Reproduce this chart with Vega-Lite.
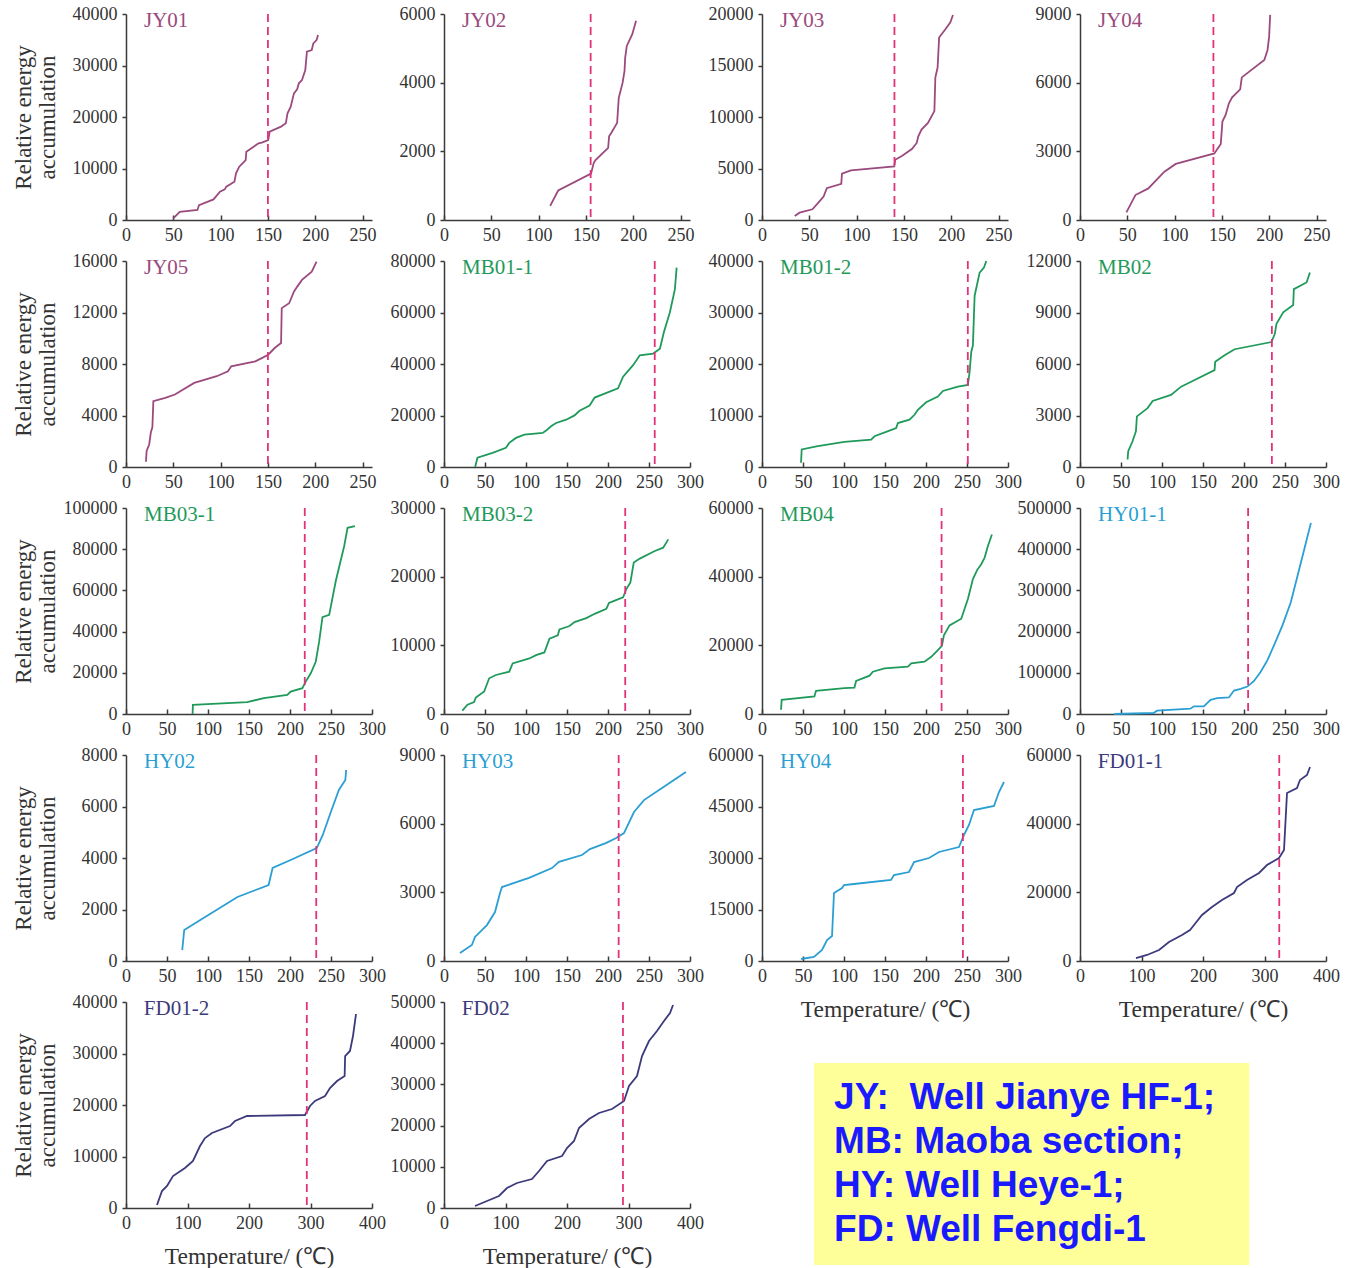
{
"$schema":"https://vega.github.io/schema/vega-lite/v6.json",
"background":"white",
"padding":{"left":11,"top":5,"right":5,"bottom":5},
"columns":4,
"spacing":{"row":41,"column":72},
"bounds":"flush",
"align":"all",
"datasets":{
"d":[
{"w":"JY01","t":150},{"w":"JY02","t":155},{"w":"JY03","t":140},{"w":"JY04","t":141},{"w":"JY05","t":150},
{"w":"MB01-1","t":257},{"w":"MB01-2","t":251},{"w":"MB02","t":234},{"w":"MB03-1","t":218},{"w":"MB03-2","t":221},{"w":"MB04","t":219},
{"w":"HY01-1","t":205},{"w":"HY02","t":232},{"w":"HY03","t":213},{"w":"HY04","t":245},
{"w":"FD01-1","t":324},{"w":"FD01-2","t":294},{"w":"FD02","t":291}
],
"leg":[
{"i":0,"label":"JY:\u00a0 Well Jianye HF-1;"},
{"i":1,"label":"MB: Maoba section;"},
{"i":2,"label":"HY: Well Heye-1;"},
{"i":3,"label":"FD: Well Fengdi-1"}
],
"c":[
{"w":"JY01","t":50,"e":300},{"w":"JY01","t":56.8,"e":1600},{"w":"JY01","t":75.5,"e":1950},{"w":"JY01","t":77.2,"e":2900},{"w":"JY01","t":92.5,"e":4000},{"w":"JY01","t":99.3,"e":5500},{"w":"JY01","t":104.4,"e":5950},{"w":"JY01","t":106,"e":6470},{"w":"JY01","t":114.6,"e":7440},{"w":"JY01","t":116.3,"e":9060},{"w":"JY01","t":119.7,"e":10350},{"w":"JY01","t":126.5,"e":11650},{"w":"JY01","t":127.2,"e":13270},{"w":"JY01","t":140.1,"e":14890},{"w":"JY01","t":143.5,"e":15020},{"w":"JY01","t":150.3,"e":15530},{"w":"JY01","t":151.9,"e":17150},{"w":"JY01","t":163.8,"e":18120},{"w":"JY01","t":168.9,"e":18770},{"w":"JY01","t":170.7,"e":20710},{"w":"JY01","t":174.1,"e":22000},{"w":"JY01","t":177.5,"e":24600},{"w":"JY01","t":180.9,"e":25370},{"w":"JY01","t":182.7,"e":26540},{"w":"JY01","t":186,"e":27180},{"w":"JY01","t":189.5,"e":29130},{"w":"JY01","t":191.2,"e":32690},{"w":"JY01","t":196.3,"e":33010},{"w":"JY01","t":198,"e":34300},{"w":"JY01","t":201.4,"e":34950},{"w":"JY01","t":203,"e":35920},
{"w":"JY02","t":112.2,"e":410},{"w":"JY02","t":120.7,"e":860},{"w":"JY02","t":155.4,"e":1350},{"w":"JY02","t":158.2,"e":1660},{"w":"JY02","t":159.9,"e":1740},{"w":"JY02","t":173.5,"e":2100},{"w":"JY02","t":174.5,"e":2440},{"w":"JY02","t":176.9,"e":2540},{"w":"JY02","t":183,"e":2830},{"w":"JY02","t":184.7,"e":3560},{"w":"JY02","t":188.8,"e":4000},{"w":"JY02","t":190.8,"e":4340},{"w":"JY02","t":191.5,"e":4730},{"w":"JY02","t":193.2,"e":5070},{"w":"JY02","t":199,"e":5410},{"w":"JY02","t":203,"e":5800},
{"w":"JY03","t":34.6,"e":390},{"w":"JY03","t":39.7,"e":715},{"w":"JY03","t":53.3,"e":1040},{"w":"JY03","t":58.4,"e":1560},{"w":"JY03","t":65.1,"e":2280},{"w":"JY03","t":68.5,"e":3090},{"w":"JY03","t":83.8,"e":3510},{"w":"JY03","t":84.5,"e":4490},{"w":"JY03","t":94,"e":4810},{"w":"JY03","t":139.8,"e":5200},{"w":"JY03","t":140.8,"e":5850},{"w":"JY03","t":148.2,"e":6240},{"w":"JY03","t":158.4,"e":6890},{"w":"JY03","t":163.5,"e":7480},{"w":"JY03","t":165.2,"e":8130},{"w":"JY03","t":168.6,"e":8780},{"w":"JY03","t":175.4,"e":9430},{"w":"JY03","t":182.2,"e":10570},{"w":"JY03","t":183.2,"e":13820},{"w":"JY03","t":185.6,"e":14800},{"w":"JY03","t":187.2,"e":17720},{"w":"JY03","t":194,"e":18540},{"w":"JY03","t":199.1,"e":19190},{"w":"JY03","t":201.8,"e":19900},
{"w":"JY04","t":49,"e":335},{"w":"JY04","t":58.6,"e":1090},{"w":"JY04","t":72.2,"e":1380},{"w":"JY04","t":89.2,"e":2110},{"w":"JY04","t":101.2,"e":2450},{"w":"JY04","t":142,"e":2910},{"w":"JY04","t":148.8,"e":3320},{"w":"JY04","t":150.5,"e":4300},{"w":"JY04","t":153.9,"e":4590},{"w":"JY04","t":157.4,"e":5100},{"w":"JY04","t":160.8,"e":5360},{"w":"JY04","t":169.3,"e":5710},{"w":"JY04","t":171,"e":6230},{"w":"JY04","t":194.8,"e":6990},{"w":"JY04","t":198.2,"e":7430},{"w":"JY04","t":199.9,"e":8010},{"w":"JY04","t":201,"e":8960},
{"w":"JY05","t":21.1,"e":410},{"w":"JY05","t":21.8,"e":1240},{"w":"JY05","t":24.5,"e":1750},{"w":"JY05","t":26.2,"e":2660},{"w":"JY05","t":27.9,"e":3100},{"w":"JY05","t":28.9,"e":5110},{"w":"JY05","t":41.5,"e":5370},{"w":"JY05","t":51.7,"e":5630},{"w":"JY05","t":72.1,"e":6530},{"w":"JY05","t":95.9,"e":7050},{"w":"JY05","t":107.8,"e":7430},{"w":"JY05","t":111.2,"e":7820},{"w":"JY05","t":136.7,"e":8210},{"w":"JY05","t":143.5,"e":8460},{"w":"JY05","t":150.3,"e":8720},{"w":"JY05","t":157.1,"e":9240},{"w":"JY05","t":163.9,"e":9630},{"w":"JY05","t":164.6,"e":12340},{"w":"JY05","t":172.4,"e":12720},{"w":"JY05","t":177.6,"e":13630},{"w":"JY05","t":181,"e":14010},{"w":"JY05","t":186,"e":14530},{"w":"JY05","t":196.3,"e":15170},{"w":"JY05","t":201.4,"e":15950},
{"w":"MB01-1","t":38,"e":0},{"w":"MB01-1","t":40.8,"e":3600},{"w":"MB01-1","t":59.2,"e":5520},{"w":"MB01-1","t":75.5,"e":7450},{"w":"MB01-1","t":79.6,"e":9370},{"w":"MB01-1","t":87.8,"e":11300},{"w":"MB01-1","t":98,"e":12580},{"w":"MB01-1","t":120.4,"e":13230},{"w":"MB01-1","t":124.5,"e":14130},{"w":"MB01-1","t":130.6,"e":15800},{"w":"MB01-1","t":136.7,"e":17080},{"w":"MB01-1","t":149,"e":18360},{"w":"MB01-1","t":159.2,"e":20030},{"w":"MB01-1","t":165.3,"e":21830},{"w":"MB01-1","t":177.6,"e":23890},{"w":"MB01-1","t":183.7,"e":26960},{"w":"MB01-1","t":202,"e":29270},{"w":"MB01-1","t":212.2,"e":30560},{"w":"MB01-1","t":218.4,"e":35050},{"w":"MB01-1","t":230.6,"e":39540},{"w":"MB01-1","t":238.8,"e":43400},{"w":"MB01-1","t":255.1,"e":44040},{"w":"MB01-1","t":263.3,"e":45970},{"w":"MB01-1","t":268.2,"e":52390},{"w":"MB01-1","t":275.5,"e":60090},{"w":"MB01-1","t":281.6,"e":69080},{"w":"MB01-1","t":283.7,"e":77430},
{"w":"MB01-2","t":47.6,"e":830},{"w":"MB01-2","t":48.4,"e":3400},{"w":"MB01-2","t":68,"e":4040},{"w":"MB01-2","t":100.5,"e":4880},{"w":"MB01-2","t":133.1,"e":5330},{"w":"MB01-2","t":137.2,"e":5970},{"w":"MB01-2","t":151.4,"e":6810},{"w":"MB01-2","t":163.6,"e":7580},{"w":"MB01-2","t":165.7,"e":8540},{"w":"MB01-2","t":179.9,"e":9180},{"w":"MB01-2","t":186,"e":10140},{"w":"MB01-2","t":190.1,"e":11110},{"w":"MB01-2","t":200.2,"e":12580},{"w":"MB01-2","t":214.5,"e":13680},{"w":"MB01-2","t":220.6,"e":14770},{"w":"MB01-2","t":238.9,"e":15600},{"w":"MB01-2","t":251.1,"e":15920},{"w":"MB01-2","t":253.2,"e":18490},{"w":"MB01-2","t":255.2,"e":22340},{"w":"MB01-2","t":257.2,"e":23630},{"w":"MB01-2","t":259.3,"e":33260},{"w":"MB01-2","t":265.4,"e":37750},{"w":"MB01-2","t":270.7,"e":38710},{"w":"MB01-2","t":273.5,"e":40000},
{"w":"MB02","t":58,"e":440},{"w":"MB02","t":58.8,"e":920},{"w":"MB02","t":64.1,"e":1500},{"w":"MB02","t":68.2,"e":2080},{"w":"MB02","t":69.4,"e":2950},{"w":"MB02","t":82.4,"e":3430},{"w":"MB02","t":88.6,"e":3850},{"w":"MB02","t":111,"e":4200},{"w":"MB02","t":123.3,"e":4680},{"w":"MB02","t":135.5,"e":4970},{"w":"MB02","t":164.1,"e":5640},{"w":"MB02","t":164.9,"e":6130},{"w":"MB02","t":176.3,"e":6510},{"w":"MB02","t":188.6,"e":6860},{"w":"MB02","t":233.5,"e":7280},{"w":"MB02","t":237.6,"e":7760},{"w":"MB02","t":239.6,"e":8340},{"w":"MB02","t":247.8,"e":9010},{"w":"MB02","t":260,"e":9440},{"w":"MB02","t":260.8,"e":10360},{"w":"MB02","t":276.3,"e":10750},{"w":"MB02","t":280.4,"e":11330},
{"w":"MB03-1","t":81.2,"e":0},{"w":"MB03-1","t":81.6,"e":4490},{"w":"MB03-1","t":147.8,"e":5780},{"w":"MB03-1","t":168.2,"e":7700},{"w":"MB03-1","t":196.7,"e":9310},{"w":"MB03-1","t":200.8,"e":10910},{"w":"MB03-1","t":215.1,"e":12520},{"w":"MB03-1","t":219.2,"e":15730},{"w":"MB03-1","t":225.3,"e":19740},{"w":"MB03-1","t":231.4,"e":25360},{"w":"MB03-1","t":235.5,"e":34990},{"w":"MB03-1","t":239.6,"e":47030},{"w":"MB03-1","t":247.8,"e":48150},{"w":"MB03-1","t":255.9,"e":64690},{"w":"MB03-1","t":266.1,"e":81540},{"w":"MB03-1","t":270.2,"e":90370},{"w":"MB03-1","t":279.2,"e":91170},
{"w":"MB03-2","t":22.4,"e":480},{"w":"MB03-2","t":28.6,"e":1350},{"w":"MB03-2","t":36.7,"e":1730},{"w":"MB03-2","t":38.8,"e":2410},{"w":"MB03-2","t":49,"e":3270},{"w":"MB03-2","t":55.1,"e":5200},{"w":"MB03-2","t":63.3,"e":5680},{"w":"MB03-2","t":79.6,"e":6160},{"w":"MB03-2","t":83.7,"e":7370},{"w":"MB03-2","t":104.1,"e":8090},{"w":"MB03-2","t":112.2,"e":8570},{"w":"MB03-2","t":122.4,"e":8960},{"w":"MB03-2","t":128.6,"e":10980},{"w":"MB03-2","t":138.8,"e":11460},{"w":"MB03-2","t":140.8,"e":12330},{"w":"MB03-2","t":153.1,"e":12810},{"w":"MB03-2","t":159.2,"e":13390},{"w":"MB03-2","t":173.5,"e":13960},{"w":"MB03-2","t":183.7,"e":14590},{"w":"MB03-2","t":198,"e":15310},{"w":"MB03-2","t":201.2,"e":16180},{"w":"MB03-2","t":208.2,"e":16520},{"w":"MB03-2","t":218.4,"e":17000},{"w":"MB03-2","t":222.4,"e":18200},{"w":"MB03-2","t":227.3,"e":19170},{"w":"MB03-2","t":231.4,"e":22050},{"w":"MB03-2","t":238.8,"e":22630},{"w":"MB03-2","t":257.1,"e":23740},{"w":"MB03-2","t":267.3,"e":24220},{"w":"MB03-2","t":273.5,"e":25430},
{"w":"MB04","t":23.2,"e":1250},{"w":"MB04","t":24,"e":4140},{"w":"MB04","t":63.9,"e":5100},{"w":"MB04","t":65.9,"e":6740},{"w":"MB04","t":100.5,"e":7510},{"w":"MB04","t":112.7,"e":7700},{"w":"MB04","t":114.8,"e":9630},{"w":"MB04","t":131.2,"e":11170},{"w":"MB04","t":135.2,"e":12330},{"w":"MB04","t":149.4,"e":13290},{"w":"MB04","t":177.9,"e":13770},{"w":"MB04","t":182,"e":14730},{"w":"MB04","t":198.2,"e":15220},{"w":"MB04","t":206.4,"e":16660},{"w":"MB04","t":214.5,"e":18590},{"w":"MB04","t":219.4,"e":19840},{"w":"MB04","t":221.8,"e":22920},{"w":"MB04","t":228.7,"e":25810},{"w":"MB04","t":243,"e":27740},{"w":"MB04","t":251.1,"e":33510},{"w":"MB04","t":257.2,"e":39290},{"w":"MB04","t":262.5,"e":41990},{"w":"MB04","t":267.4,"e":43630},{"w":"MB04","t":271.5,"e":45550},{"w":"MB04","t":275.5,"e":48920},{"w":"MB04","t":280.4,"e":52290},
{"w":"HY01-1","t":41.6,"e":0},{"w":"HY01-1","t":89.8,"e":2400},{"w":"HY01-1","t":93.9,"e":8000},{"w":"HY01-1","t":134.7,"e":12800},{"w":"HY01-1","t":138.8,"e":18500},{"w":"HY01-1","t":151,"e":18500},{"w":"HY01-1","t":159.2,"e":34500},{"w":"HY01-1","t":167.3,"e":38500},{"w":"HY01-1","t":181.6,"e":40100},{"w":"HY01-1","t":187.8,"e":57000},{"w":"HY01-1","t":195.9,"e":61000},{"w":"HY01-1","t":204.1,"e":66600},{"w":"HY01-1","t":212.2,"e":80300},{"w":"HY01-1","t":220.4,"e":102700},{"w":"HY01-1","t":228.6,"e":130800},{"w":"HY01-1","t":236.7,"e":166900},{"w":"HY01-1","t":246.9,"e":215100},{"w":"HY01-1","t":257.1,"e":271300},{"w":"HY01-1","t":265.3,"e":335500},{"w":"HY01-1","t":273.5,"e":399700},{"w":"HY01-1","t":281.6,"e":463900},
{"w":"HY02","t":68.6,"e":427},{"w":"HY02","t":71,"e":1204},{"w":"HY02","t":90.6,"e":1592},{"w":"HY02","t":135.9,"e":2485},{"w":"HY02","t":173.9,"e":2951},{"w":"HY02","t":178.8,"e":3612},{"w":"HY02","t":200.8,"e":3922},{"w":"HY02","t":232.6,"e":4388},{"w":"HY02","t":240,"e":4893},{"w":"HY02","t":249.8,"e":5786},{"w":"HY02","t":259.6,"e":6641},{"w":"HY02","t":267.5,"e":7029},{"w":"HY02","t":268.5,"e":7417},
{"w":"HY03","t":19.5,"e":350},{"w":"HY03","t":34,"e":700},{"w":"HY03","t":37.8,"e":1050},{"w":"HY03","t":52.4,"e":1570},{"w":"HY03","t":62.2,"e":2140},{"w":"HY03","t":68.3,"e":2970},{"w":"HY03","t":70.7,"e":3230},{"w":"HY03","t":103.7,"e":3630},{"w":"HY03","t":131.7,"e":4060},{"w":"HY03","t":140.2,"e":4330},{"w":"HY03","t":168.3,"e":4630},{"w":"HY03","t":178,"e":4890},{"w":"HY03","t":198,"e":5160},{"w":"HY03","t":210,"e":5370},{"w":"HY03","t":219.5,"e":5590},{"w":"HY03","t":231.7,"e":6510},{"w":"HY03","t":243.9,"e":7030},{"w":"HY03","t":265.9,"e":7560},{"w":"HY03","t":295,"e":8260},
{"w":"HY04","t":47.6,"e":580},{"w":"HY04","t":63.4,"e":1170},{"w":"HY04","t":73.2,"e":3200},{"w":"HY04","t":79.3,"e":6120},{"w":"HY04","t":85.4,"e":7280},{"w":"HY04","t":87.8,"e":19800},{"w":"HY04","t":97.6,"e":21260},{"w":"HY04","t":100,"e":22140},{"w":"HY04","t":112.2,"e":22430},{"w":"HY04","t":157.3,"e":23590},{"w":"HY04","t":161,"e":25050},{"w":"HY04","t":179.3,"e":25920},{"w":"HY04","t":185.4,"e":28830},{"w":"HY04","t":203.7,"e":30000},{"w":"HY04","t":215.9,"e":31750},{"w":"HY04","t":240.2,"e":33200},{"w":"HY04","t":246.3,"e":36700},{"w":"HY04","t":252.4,"e":39610},{"w":"HY04","t":258.5,"e":43980},{"w":"HY04","t":282.9,"e":45150},{"w":"HY04","t":289,"e":49220},{"w":"HY04","t":295.1,"e":52140},
{"w":"FD01-1","t":91,"e":870},{"w":"FD01-1","t":109,"e":1750},{"w":"FD01-1","t":128.5,"e":3200},{"w":"FD01-1","t":144.7,"e":5530},{"w":"FD01-1","t":165.9,"e":7570},{"w":"FD01-1","t":178.9,"e":9030},{"w":"FD01-1","t":185.4,"e":10490},{"w":"FD01-1","t":198.4,"e":13400},{"w":"FD01-1","t":214.6,"e":15730},{"w":"FD01-1","t":230.9,"e":17770},{"w":"FD01-1","t":250.4,"e":19810},{"w":"FD01-1","t":255.3,"e":21550},{"w":"FD01-1","t":271.5,"e":23590},{"w":"FD01-1","t":291.1,"e":25630},{"w":"FD01-1","t":304.1,"e":27960},{"w":"FD01-1","t":323.6,"e":30000},{"w":"FD01-1","t":331.7,"e":32330},{"w":"FD01-1","t":336.6,"e":48930},{"w":"FD01-1","t":352.8,"e":50390},{"w":"FD01-1","t":357.7,"e":52720},{"w":"FD01-1","t":369.1,"e":54170},{"w":"FD01-1","t":374,"e":56500},
{"w":"FD01-2","t":50.4,"e":580},{"w":"FD01-2","t":58.5,"e":3300},{"w":"FD01-2","t":66.7,"e":4270},{"w":"FD01-2","t":76.4,"e":6210},{"w":"FD01-2","t":95.9,"e":7770},{"w":"FD01-2","t":108.9,"e":9130},{"w":"FD01-2","t":120.3,"e":12040},{"w":"FD01-2","t":128.5,"e":13590},{"w":"FD01-2","t":139.8,"e":14560},{"w":"FD01-2","t":169.1,"e":15920},{"w":"FD01-2","t":177.2,"e":16890},{"w":"FD01-2","t":196.7,"e":17860},{"w":"FD01-2","t":291,"e":18060},{"w":"FD01-2","t":299.2,"e":19810},{"w":"FD01-2","t":307.3,"e":20780},{"w":"FD01-2","t":323.6,"e":21750},{"w":"FD01-2","t":331.7,"e":23300},{"w":"FD01-2","t":343.1,"e":24660},{"w":"FD01-2","t":355.5,"e":25630},{"w":"FD01-2","t":356.3,"e":29510},{"w":"FD01-2","t":364.2,"e":30490},{"w":"FD01-2","t":369.1,"e":33400},{"w":"FD01-2","t":374,"e":37670},
{"w":"FD02","t":50.4,"e":490},{"w":"FD02","t":69.9,"e":1700},{"w":"FD02","t":89.4,"e":2910},{"w":"FD02","t":102.4,"e":4850},{"w":"FD02","t":118.7,"e":6070},{"w":"FD02","t":143.1,"e":7040},{"w":"FD02","t":154.5,"e":8980},{"w":"FD02","t":167.5,"e":11410},{"w":"FD02","t":191.9,"e":12620},{"w":"FD02","t":200,"e":14560},{"w":"FD02","t":211.4,"e":16260},{"w":"FD02","t":219.5,"e":19420},{"w":"FD02","t":235.8,"e":21600},{"w":"FD02","t":252,"e":23060},{"w":"FD02","t":273.2,"e":24030},{"w":"FD02","t":292.7,"e":25970},{"w":"FD02","t":300.8,"e":29610},{"w":"FD02","t":313.8,"e":32040},{"w":"FD02","t":322,"e":36890},{"w":"FD02","t":333.3,"e":40530},{"w":"FD02","t":346.3,"e":42960},{"w":"FD02","t":357.7,"e":45390},{"w":"FD02","t":367.5,"e":47330},{"w":"FD02","t":372.4,"e":49270}
]
},
"concat":[
{"width":246,"height":206,"layer":[
{"data":{"name":"c"},"transform":[{"filter":"datum.w=='JY01'"}],"mark":{"type":"line","color":"#9b4a7e","strokeWidth":1.8},"encoding":{"x":{"field":"t","type":"quantitative","scale":{"domain":[0,250]},"axis":{"values":[0,50,100,150,200,250],"title":null}},"y":{"field":"e","type":"quantitative","scale":{"domain":[0,40000]},"axis":{"values":[0,10000,20000,30000,40000],"title":["Relative energy","accumulation"]}}}},
{"data":{"name":"d"},"transform":[{"filter":"datum.w=='JY01'"}],"mark":{"type":"rule","color":"#e2337a","strokeDash":[8,5],"strokeWidth":1.8},"encoding":{"x":{"field":"t","type":"quantitative","title":null}}},
{"data":{"name":"d"},"transform":[{"filter":"datum.w=='JY01'"}],"mark":{"type":"text","align":"left","baseline":"alphabetic","dy":13,"fontSize":21,"color":"#9b4a7e"},"encoding":{"x":{"datum":19},"y":{"datum":40000},"text":{"field":"w"}}}
]},
{"width":246,"height":206,"layer":[
{"data":{"name":"c"},"transform":[{"filter":"datum.w=='JY02'"}],"mark":{"type":"line","color":"#9b4a7e","strokeWidth":1.8},"encoding":{"x":{"field":"t","type":"quantitative","scale":{"domain":[0,250]},"axis":{"values":[0,50,100,150,200,250],"title":null}},"y":{"field":"e","type":"quantitative","scale":{"domain":[0,6000]},"axis":{"values":[0,2000,4000,6000],"title":null}}}},
{"data":{"name":"d"},"transform":[{"filter":"datum.w=='JY02'"}],"mark":{"type":"rule","color":"#e2337a","strokeDash":[8,5],"strokeWidth":1.8},"encoding":{"x":{"field":"t","type":"quantitative","title":null}}},
{"data":{"name":"d"},"transform":[{"filter":"datum.w=='JY02'"}],"mark":{"type":"text","align":"left","baseline":"alphabetic","dy":13,"fontSize":21,"color":"#9b4a7e"},"encoding":{"x":{"datum":19},"y":{"datum":6000},"text":{"field":"w"}}}
]},
{"width":246,"height":206,"layer":[
{"data":{"name":"c"},"transform":[{"filter":"datum.w=='JY03'"}],"mark":{"type":"line","color":"#9b4a7e","strokeWidth":1.8},"encoding":{"x":{"field":"t","type":"quantitative","scale":{"domain":[0,250]},"axis":{"values":[0,50,100,150,200,250],"title":null}},"y":{"field":"e","type":"quantitative","scale":{"domain":[0,20000]},"axis":{"values":[0,5000,10000,15000,20000],"title":null}}}},
{"data":{"name":"d"},"transform":[{"filter":"datum.w=='JY03'"}],"mark":{"type":"rule","color":"#e2337a","strokeDash":[8,5],"strokeWidth":1.8},"encoding":{"x":{"field":"t","type":"quantitative","title":null}}},
{"data":{"name":"d"},"transform":[{"filter":"datum.w=='JY03'"}],"mark":{"type":"text","align":"left","baseline":"alphabetic","dy":13,"fontSize":21,"color":"#9b4a7e"},"encoding":{"x":{"datum":19},"y":{"datum":20000},"text":{"field":"w"}}}
]},
{"width":246,"height":206,"layer":[
{"data":{"name":"c"},"transform":[{"filter":"datum.w=='JY04'"}],"mark":{"type":"line","color":"#9b4a7e","strokeWidth":1.8},"encoding":{"x":{"field":"t","type":"quantitative","scale":{"domain":[0,250]},"axis":{"values":[0,50,100,150,200,250],"title":null}},"y":{"field":"e","type":"quantitative","scale":{"domain":[0,9000]},"axis":{"values":[0,3000,6000,9000],"title":null}}}},
{"data":{"name":"d"},"transform":[{"filter":"datum.w=='JY04'"}],"mark":{"type":"rule","color":"#e2337a","strokeDash":[8,5],"strokeWidth":1.8},"encoding":{"x":{"field":"t","type":"quantitative","title":null}}},
{"data":{"name":"d"},"transform":[{"filter":"datum.w=='JY04'"}],"mark":{"type":"text","align":"left","baseline":"alphabetic","dy":13,"fontSize":21,"color":"#9b4a7e"},"encoding":{"x":{"datum":19},"y":{"datum":9000},"text":{"field":"w"}}}
]},
{"width":246,"height":206,"layer":[
{"data":{"name":"c"},"transform":[{"filter":"datum.w=='JY05'"}],"mark":{"type":"line","color":"#9b4a7e","strokeWidth":1.8},"encoding":{"x":{"field":"t","type":"quantitative","scale":{"domain":[0,250]},"axis":{"values":[0,50,100,150,200,250],"title":null}},"y":{"field":"e","type":"quantitative","scale":{"domain":[0,16000]},"axis":{"values":[0,4000,8000,12000,16000],"title":["Relative energy","accumulation"]}}}},
{"data":{"name":"d"},"transform":[{"filter":"datum.w=='JY05'"}],"mark":{"type":"rule","color":"#e2337a","strokeDash":[8,5],"strokeWidth":1.8},"encoding":{"x":{"field":"t","type":"quantitative","title":null}}},
{"data":{"name":"d"},"transform":[{"filter":"datum.w=='JY05'"}],"mark":{"type":"text","align":"left","baseline":"alphabetic","dy":13,"fontSize":21,"color":"#9b4a7e"},"encoding":{"x":{"datum":19},"y":{"datum":16000},"text":{"field":"w"}}}
]},
{"width":246,"height":206,"layer":[
{"data":{"name":"c"},"transform":[{"filter":"datum.w=='MB01-1'"}],"mark":{"type":"line","color":"#1f9a5b","strokeWidth":1.8},"encoding":{"x":{"field":"t","type":"quantitative","scale":{"domain":[0,300]},"axis":{"values":[0,50,100,150,200,250,300],"title":null}},"y":{"field":"e","type":"quantitative","scale":{"domain":[0,80000]},"axis":{"values":[0,20000,40000,60000,80000],"title":null}}}},
{"data":{"name":"d"},"transform":[{"filter":"datum.w=='MB01-1'"}],"mark":{"type":"rule","color":"#e2337a","strokeDash":[8,5],"strokeWidth":1.8},"encoding":{"x":{"field":"t","type":"quantitative","title":null}}},
{"data":{"name":"d"},"transform":[{"filter":"datum.w=='MB01-1'"}],"mark":{"type":"text","align":"left","baseline":"alphabetic","dy":13,"fontSize":21,"color":"#1f9a5b"},"encoding":{"x":{"datum":22},"y":{"datum":80000},"text":{"field":"w"}}}
]},
{"width":246,"height":206,"layer":[
{"data":{"name":"c"},"transform":[{"filter":"datum.w=='MB01-2'"}],"mark":{"type":"line","color":"#1f9a5b","strokeWidth":1.8},"encoding":{"x":{"field":"t","type":"quantitative","scale":{"domain":[0,300]},"axis":{"values":[0,50,100,150,200,250,300],"title":null}},"y":{"field":"e","type":"quantitative","scale":{"domain":[0,40000]},"axis":{"values":[0,10000,20000,30000,40000],"title":null}}}},
{"data":{"name":"d"},"transform":[{"filter":"datum.w=='MB01-2'"}],"mark":{"type":"rule","color":"#e2337a","strokeDash":[8,5],"strokeWidth":1.8},"encoding":{"x":{"field":"t","type":"quantitative","title":null}}},
{"data":{"name":"d"},"transform":[{"filter":"datum.w=='MB01-2'"}],"mark":{"type":"text","align":"left","baseline":"alphabetic","dy":13,"fontSize":21,"color":"#1f9a5b"},"encoding":{"x":{"datum":22},"y":{"datum":40000},"text":{"field":"w"}}}
]},
{"width":246,"height":206,"layer":[
{"data":{"name":"c"},"transform":[{"filter":"datum.w=='MB02'"}],"mark":{"type":"line","color":"#1f9a5b","strokeWidth":1.8},"encoding":{"x":{"field":"t","type":"quantitative","scale":{"domain":[0,300]},"axis":{"values":[0,50,100,150,200,250,300],"title":null}},"y":{"field":"e","type":"quantitative","scale":{"domain":[0,12000]},"axis":{"values":[0,3000,6000,9000,12000],"title":null}}}},
{"data":{"name":"d"},"transform":[{"filter":"datum.w=='MB02'"}],"mark":{"type":"rule","color":"#e2337a","strokeDash":[8,5],"strokeWidth":1.8},"encoding":{"x":{"field":"t","type":"quantitative","title":null}}},
{"data":{"name":"d"},"transform":[{"filter":"datum.w=='MB02'"}],"mark":{"type":"text","align":"left","baseline":"alphabetic","dy":13,"fontSize":21,"color":"#1f9a5b"},"encoding":{"x":{"datum":22},"y":{"datum":12000},"text":{"field":"w"}}}
]},
{"width":246,"height":206,"layer":[
{"data":{"name":"c"},"transform":[{"filter":"datum.w=='MB03-1'"}],"mark":{"type":"line","color":"#1f9a5b","strokeWidth":1.8},"encoding":{"x":{"field":"t","type":"quantitative","scale":{"domain":[0,300]},"axis":{"values":[0,50,100,150,200,250,300],"title":null}},"y":{"field":"e","type":"quantitative","scale":{"domain":[0,100000]},"axis":{"values":[0,20000,40000,60000,80000,100000],"title":["Relative energy","accumulation"]}}}},
{"data":{"name":"d"},"transform":[{"filter":"datum.w=='MB03-1'"}],"mark":{"type":"rule","color":"#e2337a","strokeDash":[8,5],"strokeWidth":1.8},"encoding":{"x":{"field":"t","type":"quantitative","title":null}}},
{"data":{"name":"d"},"transform":[{"filter":"datum.w=='MB03-1'"}],"mark":{"type":"text","align":"left","baseline":"alphabetic","dy":13,"fontSize":21,"color":"#1f9a5b"},"encoding":{"x":{"datum":22},"y":{"datum":100000},"text":{"field":"w"}}}
]},
{"width":246,"height":206,"layer":[
{"data":{"name":"c"},"transform":[{"filter":"datum.w=='MB03-2'"}],"mark":{"type":"line","color":"#1f9a5b","strokeWidth":1.8},"encoding":{"x":{"field":"t","type":"quantitative","scale":{"domain":[0,300]},"axis":{"values":[0,50,100,150,200,250,300],"title":null}},"y":{"field":"e","type":"quantitative","scale":{"domain":[0,30000]},"axis":{"values":[0,10000,20000,30000],"title":null}}}},
{"data":{"name":"d"},"transform":[{"filter":"datum.w=='MB03-2'"}],"mark":{"type":"rule","color":"#e2337a","strokeDash":[8,5],"strokeWidth":1.8},"encoding":{"x":{"field":"t","type":"quantitative","title":null}}},
{"data":{"name":"d"},"transform":[{"filter":"datum.w=='MB03-2'"}],"mark":{"type":"text","align":"left","baseline":"alphabetic","dy":13,"fontSize":21,"color":"#1f9a5b"},"encoding":{"x":{"datum":22},"y":{"datum":30000},"text":{"field":"w"}}}
]},
{"width":246,"height":206,"layer":[
{"data":{"name":"c"},"transform":[{"filter":"datum.w=='MB04'"}],"mark":{"type":"line","color":"#1f9a5b","strokeWidth":1.8},"encoding":{"x":{"field":"t","type":"quantitative","scale":{"domain":[0,300]},"axis":{"values":[0,50,100,150,200,250,300],"title":null}},"y":{"field":"e","type":"quantitative","scale":{"domain":[0,60000]},"axis":{"values":[0,10000,20000,30000,40000,50000,60000],"title":null}}}},
{"data":{"name":"d"},"transform":[{"filter":"datum.w=='MB04'"}],"mark":{"type":"rule","color":"#e2337a","strokeDash":[8,5],"strokeWidth":1.8},"encoding":{"x":{"field":"t","type":"quantitative","title":null}}},
{"data":{"name":"d"},"transform":[{"filter":"datum.w=='MB04'"}],"mark":{"type":"text","align":"left","baseline":"alphabetic","dy":13,"fontSize":21,"color":"#1f9a5b"},"encoding":{"x":{"datum":22},"y":{"datum":60000},"text":{"field":"w"}}}
]},
{"width":246,"height":206,"layer":[
{"data":{"name":"c"},"transform":[{"filter":"datum.w=='HY01-1'"}],"mark":{"type":"line","color":"#2b9fd3","strokeWidth":1.8},"encoding":{"x":{"field":"t","type":"quantitative","scale":{"domain":[0,300]},"axis":{"values":[0,50,100,150,200,250,300],"title":null}},"y":{"field":"e","type":"quantitative","scale":{"domain":[0,500000]},"axis":{"values":[0,100000,200000,300000,400000,500000],"title":null}}}},
{"data":{"name":"d"},"transform":[{"filter":"datum.w=='HY01-1'"}],"mark":{"type":"rule","color":"#e2337a","strokeDash":[8,5],"strokeWidth":1.8},"encoding":{"x":{"field":"t","type":"quantitative","title":null}}},
{"data":{"name":"d"},"transform":[{"filter":"datum.w=='HY01-1'"}],"mark":{"type":"text","align":"left","baseline":"alphabetic","dy":13,"fontSize":21,"color":"#2b9fd3"},"encoding":{"x":{"datum":22},"y":{"datum":500000},"text":{"field":"w"}}}
]},
{"width":246,"height":206,"layer":[
{"data":{"name":"c"},"transform":[{"filter":"datum.w=='HY02'"}],"mark":{"type":"line","color":"#2b9fd3","strokeWidth":1.8},"encoding":{"x":{"field":"t","type":"quantitative","scale":{"domain":[0,300]},"axis":{"values":[0,50,100,150,200,250,300],"title":null}},"y":{"field":"e","type":"quantitative","scale":{"domain":[0,8000]},"axis":{"values":[0,2000,4000,6000,8000],"title":["Relative energy","accumulation"]}}}},
{"data":{"name":"d"},"transform":[{"filter":"datum.w=='HY02'"}],"mark":{"type":"rule","color":"#e2337a","strokeDash":[8,5],"strokeWidth":1.8},"encoding":{"x":{"field":"t","type":"quantitative","title":null}}},
{"data":{"name":"d"},"transform":[{"filter":"datum.w=='HY02'"}],"mark":{"type":"text","align":"left","baseline":"alphabetic","dy":13,"fontSize":21,"color":"#2b9fd3"},"encoding":{"x":{"datum":22},"y":{"datum":8000},"text":{"field":"w"}}}
]},
{"width":246,"height":206,"layer":[
{"data":{"name":"c"},"transform":[{"filter":"datum.w=='HY03'"}],"mark":{"type":"line","color":"#2b9fd3","strokeWidth":1.8},"encoding":{"x":{"field":"t","type":"quantitative","scale":{"domain":[0,300]},"axis":{"values":[0,50,100,150,200,250,300],"title":null}},"y":{"field":"e","type":"quantitative","scale":{"domain":[0,9000]},"axis":{"values":[0,3000,6000,9000],"title":null}}}},
{"data":{"name":"d"},"transform":[{"filter":"datum.w=='HY03'"}],"mark":{"type":"rule","color":"#e2337a","strokeDash":[8,5],"strokeWidth":1.8},"encoding":{"x":{"field":"t","type":"quantitative","title":null}}},
{"data":{"name":"d"},"transform":[{"filter":"datum.w=='HY03'"}],"mark":{"type":"text","align":"left","baseline":"alphabetic","dy":13,"fontSize":21,"color":"#2b9fd3"},"encoding":{"x":{"datum":22},"y":{"datum":9000},"text":{"field":"w"}}}
]},
{"width":246,"height":206,"layer":[
{"data":{"name":"c"},"transform":[{"filter":"datum.w=='HY04'"}],"mark":{"type":"line","color":"#2b9fd3","strokeWidth":1.8},"encoding":{"x":{"field":"t","type":"quantitative","scale":{"domain":[0,300]},"axis":{"values":[0,50,100,150,200,250,300],"title":"Temperature/ (℃)"}},"y":{"field":"e","type":"quantitative","scale":{"domain":[0,60000]},"axis":{"values":[0,15000,30000,45000,60000],"title":null}}}},
{"data":{"name":"d"},"transform":[{"filter":"datum.w=='HY04'"}],"mark":{"type":"rule","color":"#e2337a","strokeDash":[8,5],"strokeWidth":1.8},"encoding":{"x":{"field":"t","type":"quantitative","title":"Temperature/ (℃)"}}},
{"data":{"name":"d"},"transform":[{"filter":"datum.w=='HY04'"}],"mark":{"type":"text","align":"left","baseline":"alphabetic","dy":13,"fontSize":21,"color":"#2b9fd3"},"encoding":{"x":{"datum":22},"y":{"datum":60000},"text":{"field":"w"}}}
]},
{"width":246,"height":206,"layer":[
{"data":{"name":"c"},"transform":[{"filter":"datum.w=='FD01-1'"}],"mark":{"type":"line","color":"#3c3a7c","strokeWidth":1.8},"encoding":{"x":{"field":"t","type":"quantitative","scale":{"domain":[0,400]},"axis":{"values":[0,100,200,300,400],"title":"Temperature/ (℃)"}},"y":{"field":"e","type":"quantitative","scale":{"domain":[0,60000]},"axis":{"values":[0,20000,40000,60000],"title":null}}}},
{"data":{"name":"d"},"transform":[{"filter":"datum.w=='FD01-1'"}],"mark":{"type":"rule","color":"#e2337a","strokeDash":[8,5],"strokeWidth":1.8},"encoding":{"x":{"field":"t","type":"quantitative","title":"Temperature/ (℃)"}}},
{"data":{"name":"d"},"transform":[{"filter":"datum.w=='FD01-1'"}],"mark":{"type":"text","align":"left","baseline":"alphabetic","dy":13,"fontSize":21,"color":"#3c3a7c"},"encoding":{"x":{"datum":29},"y":{"datum":60000},"text":{"field":"w"}}}
]},
{"width":246,"height":206,"layer":[
{"data":{"name":"c"},"transform":[{"filter":"datum.w=='FD01-2'"}],"mark":{"type":"line","color":"#3c3a7c","strokeWidth":1.8},"encoding":{"x":{"field":"t","type":"quantitative","scale":{"domain":[0,400]},"axis":{"values":[0,100,200,300,400],"title":"Temperature/ (℃)"}},"y":{"field":"e","type":"quantitative","scale":{"domain":[0,40000]},"axis":{"values":[0,10000,20000,30000,40000],"title":["Relative energy","accumulation"]}}}},
{"data":{"name":"d"},"transform":[{"filter":"datum.w=='FD01-2'"}],"mark":{"type":"rule","color":"#e2337a","strokeDash":[8,5],"strokeWidth":1.8},"encoding":{"x":{"field":"t","type":"quantitative","title":"Temperature/ (℃)"}}},
{"data":{"name":"d"},"transform":[{"filter":"datum.w=='FD01-2'"}],"mark":{"type":"text","align":"left","baseline":"alphabetic","dy":13,"fontSize":21,"color":"#3c3a7c"},"encoding":{"x":{"datum":29},"y":{"datum":40000},"text":{"field":"w"}}}
]},
{"width":246,"height":206,"layer":[
{"data":{"name":"c"},"transform":[{"filter":"datum.w=='FD02'"}],"mark":{"type":"line","color":"#3c3a7c","strokeWidth":1.8},"encoding":{"x":{"field":"t","type":"quantitative","scale":{"domain":[0,400]},"axis":{"values":[0,100,200,300,400],"title":"Temperature/ (℃)"}},"y":{"field":"e","type":"quantitative","scale":{"domain":[0,50000]},"axis":{"values":[0,10000,20000,30000,40000,50000],"title":null}}}},
{"data":{"name":"d"},"transform":[{"filter":"datum.w=='FD02'"}],"mark":{"type":"rule","color":"#e2337a","strokeDash":[8,5],"strokeWidth":1.8},"encoding":{"x":{"field":"t","type":"quantitative","title":"Temperature/ (℃)"}}},
{"data":{"name":"d"},"transform":[{"filter":"datum.w=='FD02'"}],"mark":{"type":"text","align":"left","baseline":"alphabetic","dy":13,"fontSize":21,"color":"#3c3a7c"},"encoding":{"x":{"datum":29},"y":{"datum":50000},"text":{"field":"w"}}}
]},
{"width":246,"height":206,"data":{"name":"leg"},"layer":[
{"mark":{"type":"rect","color":"#ffff99","opacity":1},"encoding":{"x":{"datum":0.2114,"type":"quantitative","scale":{"domain":[0,1],"nice":false,"zero":false},"axis":null},"x2":{"datum":1.98},"y":{"datum":-0.795,"type":"quantitative","scale":{"domain":[-2.182,2.5],"reverse":true,"nice":false,"zero":false},"axis":null},"y2":{"datum":3.795}}},
{"mark":{"type":"text","align":"left","baseline":"middle","font":"Liberation Sans","fontWeight":"bold","fontSize":37,"color":"#1a1aff"},"encoding":{"x":{"datum":0.293,"type":"quantitative"},"y":{"field":"i","type":"quantitative"},"text":{"field":"label"}}}
]}
],
"config":{
"view":{"stroke":null},
"font":"Liberation Serif",
"axis":{"grid":false,"domainColor":"#3a3a3a","domainWidth":1.5,"tickColor":"#3a3a3a","tickWidth":1.5,"labelFont":"Liberation Serif","labelFontSize":18,"labelColor":"#333333","titleFont":"Liberation Serif","titleFontSize":22,"titleFontWeight":"normal","titleColor":"#333333","format":"d","labelFlush":false,"labelOverlap":false},
"axisX":{"tickSize":-5,"labelPadding":11,"titlePadding":12,"titleFontSize":23.5},
"axisY":{"tickSize":4,"labelPadding":5,"titleX":-91,"titleY":103,"titleLineHeight":24,"titleFontSize":23}
}
}
